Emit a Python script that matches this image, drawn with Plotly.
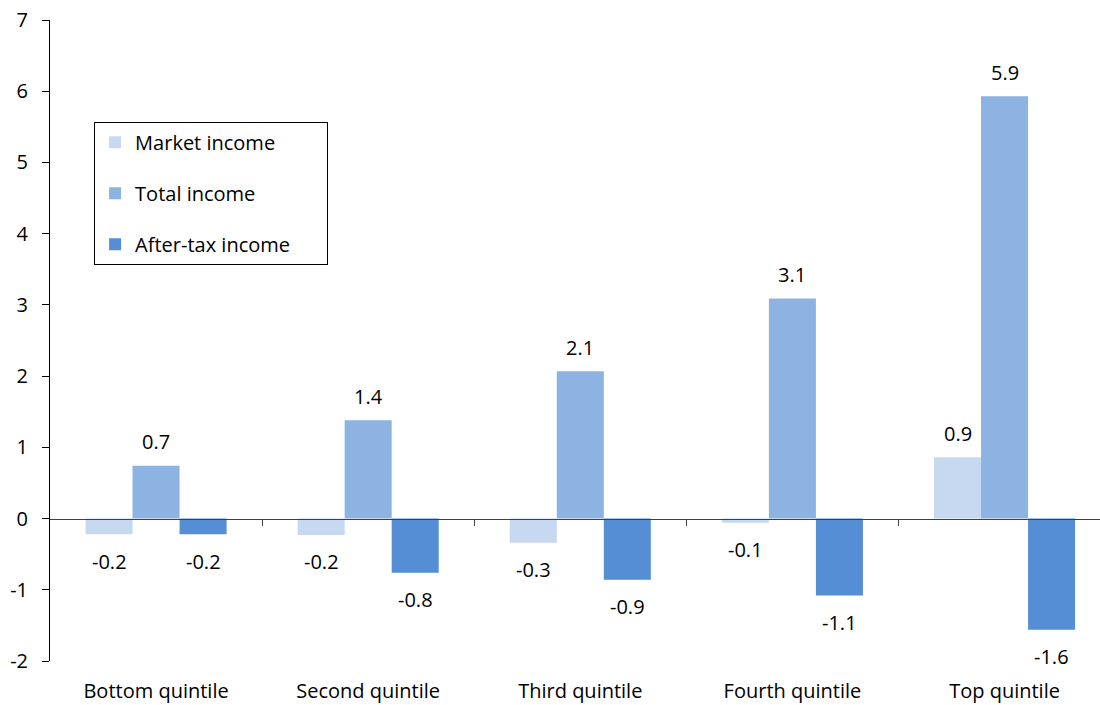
import plotly.graph_objects as go

# Change in income share by quintile (percentage points)
categories = ["Bottom quintile", "Second quintile", "Third quintile", "Fourth quintile", "Top quintile"]
market_income = [-0.22, -0.23, -0.34, -0.06, 0.86]
total_income = [0.74, 1.38, 2.07, 3.09, 5.93]
after_tax_income = [-0.22, -0.76, -0.86, -1.08, -1.56]

series_names = ["Market income", "Total income", "After-tax income"]
series_colors = ["#c6d9f1", "#8db3e2", "#558ed5"]
y_ticks = [-2, -1, 0, 1, 2, 3, 4, 5, 6, 7]

FONT = "Open Sans"
FS = 20
Y_MIN, Y_MAX = -2, 7
BARGAP = 0.335
positions = list(range(len(categories)))

fig = go.Figure()
all_series = [market_income, total_income, after_tax_income]
for i, (name, vals, col) in enumerate(zip(series_names, all_series, series_colors)):
    fig.add_trace(go.Bar(
        x=positions, y=vals,
        # trailing spaces widen the legend box
        name=name + "\u00a0" * 6,
        marker=dict(color=col, line=dict(width=0)),
        legendgroup=name,
        hoverinfo="skip",
    ))

# value labels above / below each bar
bar_w = (1 - BARGAP) / len(series_names)
annotations = []
for i, vals in enumerate(all_series):
    offset = (i - 1) * bar_w
    for p, v in zip(positions, vals):
        annotations.append(dict(
            x=p + offset, y=v, xref="x", yref="y",
            text=f"{v:.1f}", showarrow=False,
            yanchor="middle", yshift=24 if v >= 0 else -27,
            font=dict(family=FONT, size=FS, color="#000000"),
        ))

# helper trace so the zero-line axis is drawn
fig.add_trace(go.Scatter(x=[None], y=[None], xaxis="x2", showlegend=False, hoverinfo="skip"))

x_range = [-0.5, 4.45]
fig.update_layout(
    width=1100, height=705,
    margin=dict(l=50, r=0, t=20, b=44),
    paper_bgcolor="white", plot_bgcolor="white",
    barmode="group", bargap=BARGAP, bargroupgap=0,
    font=dict(family=FONT, size=FS, color="#000000"),
    annotations=annotations,
    legend=dict(
        x=0.042, y=0.8413, xanchor="left", yanchor="top",
        bordercolor="#000000", borderwidth=1, bgcolor="white",
        font=dict(family=FONT, size=FS, color="#000000"),
        traceorder="grouped", tracegroupgap=22,
    ),
    xaxis=dict(
        range=x_range, tickmode="array", tickvals=positions, ticktext=categories,
        showline=False, showgrid=False, zeroline=False, ticks="",
        ticklabelstandoff=16,
        tickfont=dict(family=FONT, size=FS, color="#000000"),
    ),
    xaxis2=dict(
        range=x_range, overlaying="x", anchor="free",
        position=(0 - Y_MIN) / (Y_MAX - Y_MIN),
        tickmode="array", tickvals=[p + 0.5 for p in positions[:-1]],
        showticklabels=False, ticks="outside", ticklen=6, tickcolor="#404040",
        showline=True, linecolor="#404040", linewidth=1,
        showgrid=False, zeroline=False,
    ),
    yaxis=dict(
        range=[Y_MIN, Y_MAX], tickmode="array", tickvals=y_ticks,
        ticktext=[str(t) for t in y_ticks],
        showline=True, linecolor="#000000", linewidth=1,
        ticks="outside", ticklen=7, tickcolor="#000000",
        showgrid=False, zeroline=False,
        ticklabelstandoff=10,
        tickfont=dict(family=FONT, size=FS, color="#000000"),
    ),
    showlegend=True,
)

fig.write_html("out.html")
